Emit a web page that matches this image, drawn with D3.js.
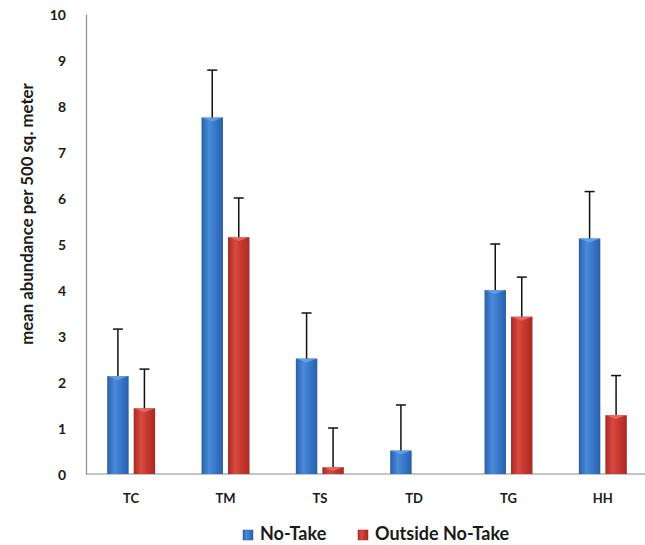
<!DOCTYPE html>
<html>
<head>
<meta charset="utf-8">
<script src="https://cdn.jsdelivr.net/npm/d3@7"></script>
<style>
  html, body { margin: 0; padding: 0; background: #fff; }
  svg text { font-family: Lato, "Open Sans", "Liberation Sans", sans-serif; font-weight: bold; fill: #1a1a1a; }
</style>
</head>
<body>
<svg id="chart" width="645" height="545"></svg>
<script>
// Species codes along the x axis
const categories = ["TC", "TM", "TS", "TD", "TG", "HH"];
const seriesNames = ["No-Take", "Outside No-Take"];
// Mean abundance per 500 sq. meter
const noTake = [2.13, 7.75, 2.51, 0.51, 4.0, 5.12];
const outsideNoTake = [1.43, 5.15, 0.15, 0, 3.42, 1.28];
// Upper end of each error bar (mean + error)
const noTakeErrTop = [3.15, 8.78, 3.5, 1.5, 5.0, 6.14];
const outsideErrTop = [2.28, 6.0, 1.0, null, 4.28, 2.14];
const yTicks = [0, 1, 2, 3, 4, 5, 6, 7, 8, 9, 10];

const svg = d3.select("#chart");
const x0 = 86, yBase = 474, yTop = 14;

const x = d3.scaleBand().domain(categories).range([84, 650]).paddingInner(0).paddingOuter(0);
const xs = d3.scaleBand().domain(seriesNames).range([0, x.bandwidth()]).paddingInner(0.19).paddingOuter(0.875);
const y = d3.scaleLinear().domain([0, 10]).range([yBase, yTop]);

// Gradients giving the bars a rounded look
const defs = svg.append("defs");
function grad(id, edge, mid, light) {
  const g = defs.append("linearGradient").attr("id", id).attr("x1", "0").attr("x2", "1").attr("y1", "0").attr("y2", "0");
  g.append("stop").attr("offset", "0%").attr("stop-color", edge);
  g.append("stop").attr("offset", "35%").attr("stop-color", light);
  g.append("stop").attr("offset", "60%").attr("stop-color", mid);
  g.append("stop").attr("offset", "100%").attr("stop-color", edge);
}
grad("gBlue", "#2a5faa", "#3a7acc", "#4a8ada");
grad("gRed", "#a82a26", "#c8392f", "#d84a40");
const fills = { "No-Take": "url(#gBlue)", "Outside No-Take": "url(#gRed)" };
const tops = { "No-Take": "#6aa5e6", "Outside No-Take": "#e8706a" };

// Axes
const yAxis = d3.axisLeft(y).tickValues(yTicks).tickSize(0).tickPadding(20).tickFormat(d3.format("d"));
const gy = svg.append("g").attr("transform", `translate(${x0},0)`).call(yAxis);
gy.select(".domain").attr("stroke", "#8c8c8c").attr("stroke-width", 1.2);
gy.selectAll("text").style("font-size", "14px").attr("dy", "0.36em");

svg.append("line").attr("x1", x0).attr("x2", 645).attr("y1", yBase).attr("y2", yBase)
  .attr("stroke", "#8c8c8c").attr("stroke-width", 1.2);

const xAxis = d3.axisBottom(x).tickSize(0).tickPadding(0);
const gx = svg.append("g").attr("transform", `translate(0,${yBase})`).call(xAxis);
gx.select(".domain").remove();
gx.selectAll("text").style("font-size", "13px").attr("y", 29).attr("dy", null);

// Bars and error bars
const rows = categories.map((c, i) => ({
  cat: c,
  items: [
    { s: "No-Take", v: noTake[i], e: noTakeErrTop[i] },
    { s: "Outside No-Take", v: outsideNoTake[i], e: outsideErrTop[i] }
  ]
}));

const grp = svg.append("g").selectAll("g").data(rows).join("g")
  .attr("transform", d => `translate(${x(d.cat)},0)`);

const items = grp.selectAll("g.item").data(d => d.items.filter(it => it.v > 0)).join("g").attr("class", "item");

items.append("rect")
  .attr("x", d => xs(d.s)).attr("width", xs.bandwidth())
  .attr("y", d => y(d.v)).attr("height", d => yBase - y(d.v))
  .attr("fill", d => fills[d.s]);

items.append("path")
  .attr("d", d => {
    const xl = xs(d.s), w = xs.bandwidth(), t = y(d.v);
    return `M${xl},${t} L${xl + w},${t} L${xl + w * 0.5},${t + 4} Z`;
  })
  .attr("fill", d => tops[d.s]).attr("opacity", 0.8);

const errs = items.filter(d => d.e != null);
errs.append("line")
  .attr("x1", d => xs(d.s) + xs.bandwidth() / 2).attr("x2", d => xs(d.s) + xs.bandwidth() / 2)
  .attr("y1", d => y(d.v)).attr("y2", d => y(d.e))
  .attr("stroke", "#111").attr("stroke-width", 1.5);
errs.append("line")
  .attr("x1", d => xs(d.s) + xs.bandwidth() / 2 - 5).attr("x2", d => xs(d.s) + xs.bandwidth() / 2 + 5)
  .attr("y1", d => y(d.e)).attr("y2", d => y(d.e))
  .attr("stroke", "#111").attr("stroke-width", 1.5);

// Y axis title
svg.append("text")
  .attr("transform", "translate(33,214) rotate(-90)")
  .attr("text-anchor", "middle")
  .style("font-size", "16.8px")
  .text("mean abundance per 500  sq. meter");

// Legend
const legend = svg.append("g");
const legX = [243, 358];
seriesNames.forEach((s, i) => {
  legend.append("rect").attr("x", legX[i]).attr("y", 530).attr("width", 10).attr("height", 10)
    .attr("fill", fills[s]).attr("stroke", i === 0 ? "#2a5faa" : "#a82a26").attr("stroke-width", 0.5);
  legend.append("text").attr("x", legX[i] + 17).attr("y", 540)
    .style("font-size", "18px").text(s);
});
</script>
</body>
</html>
